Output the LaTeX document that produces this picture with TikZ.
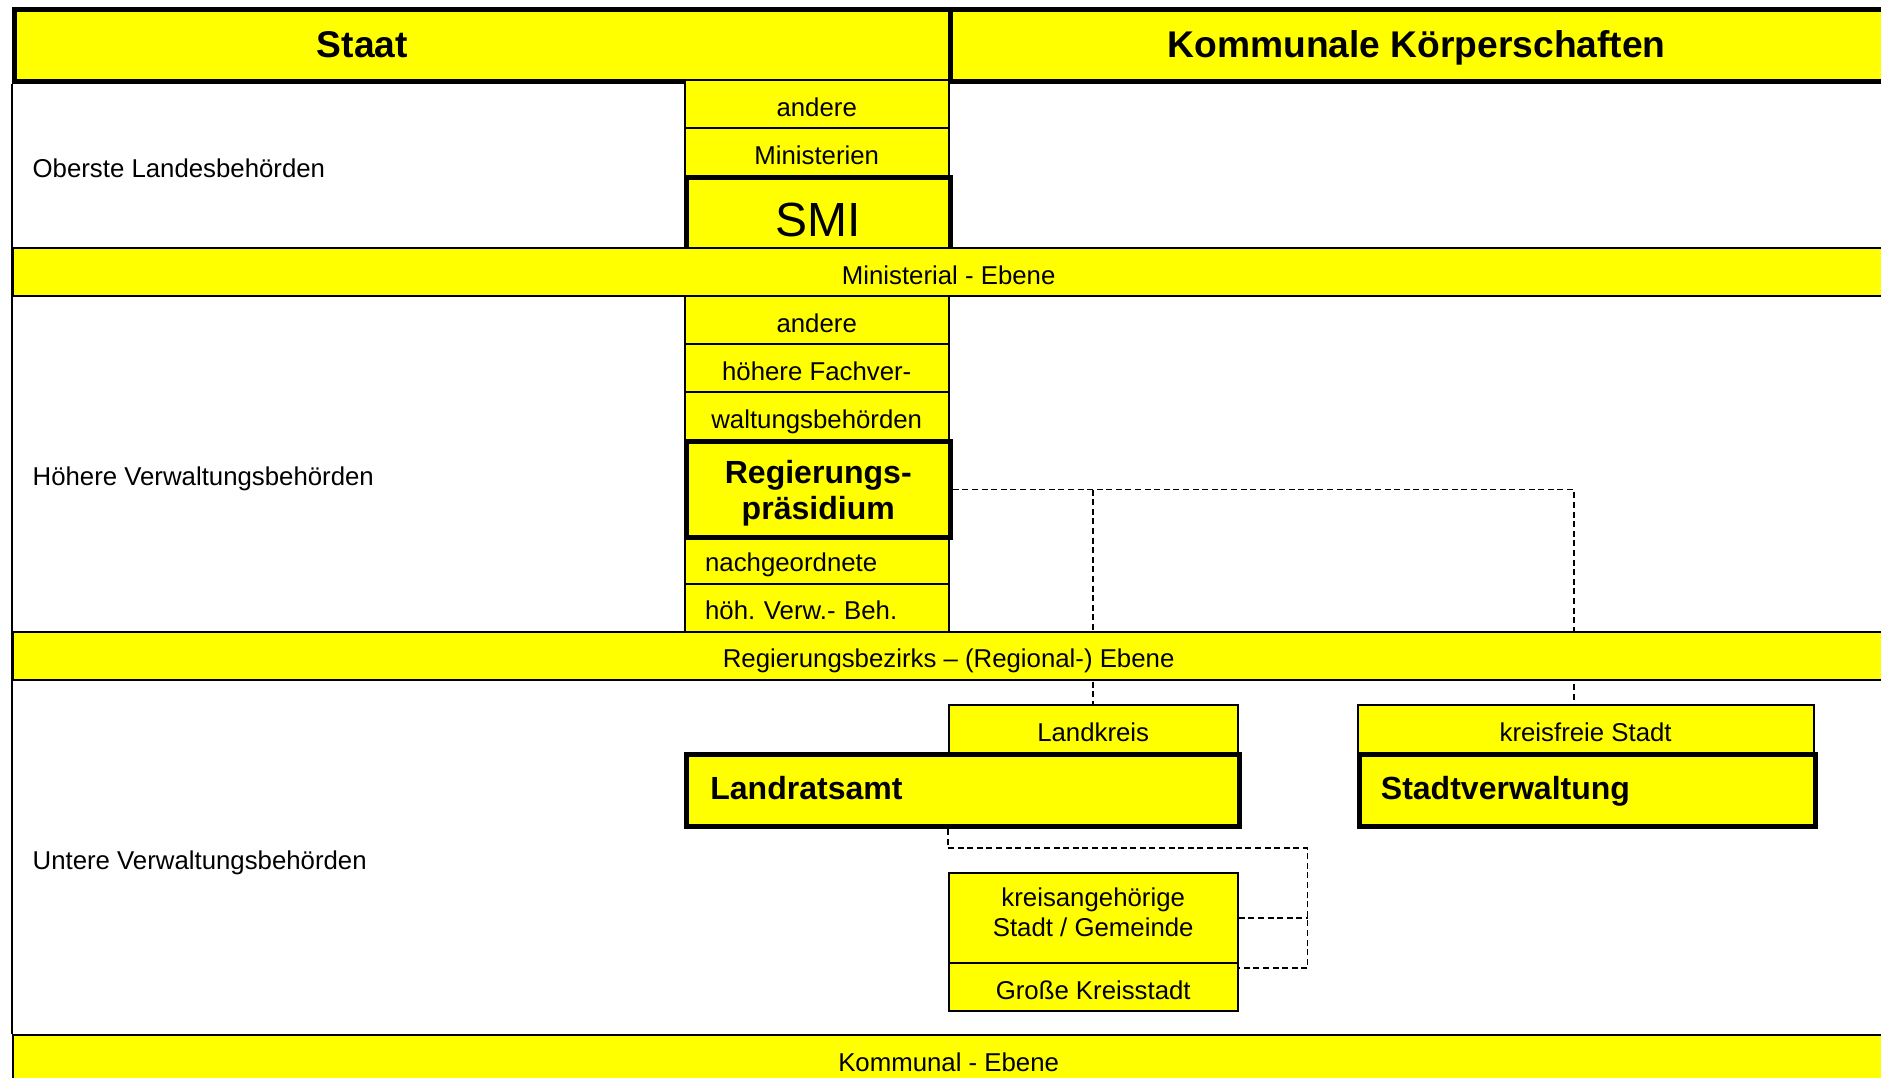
\documentclass[tikz,border=0pt]{standalone}
\usepackage{fontspec}
\setmainfont{Liberation Sans}
\definecolor{yel}{RGB}{255,255,0}
\begin{document}
\frenchspacing
\begin{tikzpicture}[x=1pt,y=-1pt,
  thinbox/.style={draw=black, fill=yel, line width=1.6pt, inner sep=0pt, anchor=north west},
  thickbox/.style={draw=black, fill=yel, line width=4.2pt, inner sep=0pt, anchor=north west},
  nf/.style={font=\fontsize{21.5}{25}\selectfont, text height=20pt, text depth=0pt},
  nf2/.style={font=\fontsize{21.5}{25}\selectfont},
  bf/.style={font=\fontsize{26.7}{30}\selectfont\bfseries, text height=15pt, text depth=0pt},
  bf2/.style={font=\fontsize{26.7}{30}\selectfont\bfseries},
  hf/.style={font=\fontsize{31}{35}\selectfont\bfseries, text height=22pt, text depth=0pt, inner sep=0pt},
  lab/.style={nf, anchor=west, inner sep=0pt},
  dline/.style={dash pattern=on 5pt off 3pt, line width=1.4pt},
  thinline/.style={line width=1.6pt}
]
\useasboundingbox (0,0) rectangle (1568,898);
\clip (0,0) rectangle (1568,898);
\fill[white] (0,0) rectangle (1568,898);

% header
\node[thickbox, minimum width=780pt, minimum height=60pt] (hs) at (10,6) {};
\node[thickbox, minimum width=782pt, minimum height=60pt] (hk) at (790,6) {};
\node[hf] (tstaat) at (302,37) {Staat};
\node[hf] (tkomm) at (1181,37) {Kommunale Körperschaften};

% row labels
\node[lab] (l1) at (27,138) {Oberste Landesbehörden};
\node[lab] (l2) at (27,395) {Höhere Verwaltungsbehörden};
\node[lab] (l3) at (27,715) {Untere Verwaltungsbehörden};

% column top level
\node[thinbox, nf, minimum width=220pt, minimum height=40pt] (a1) at (570,66) {andere};
\node[thinbox, nf, minimum width=220pt, minimum height=40pt] (a2) at (570,106) {Ministerien};
\node[thickbox, font=\fontsize{40}{44}\selectfont, text height=38.6pt, text depth=0pt, minimum width=220pt, minimum height=60pt] (smi) at (570,146) {SMI};

% column middle level
\node[thinbox, nf, minimum width=220pt, minimum height=40pt] (b1) at (570,246) {andere};
\node[thinbox, nf, minimum width=220pt, minimum height=40pt] (b2) at (570,286) {höhere Fachver-};
\node[thinbox, nf, minimum width=220pt, minimum height=40pt] (b3) at (570,326) {waltungsbehörden};
\node[thinbox, nf, minimum width=220pt, minimum height=40pt, text width=186pt, inner xsep=17pt, align=left] (b4) at (570,446) {nachgeordnete};
\node[thinbox, nf, minimum width=220pt, minimum height=40pt, text width=186pt, inner xsep=17pt, align=left] (b5) at (570,486) {höh. Verw.- Beh.};
\node[thickbox, minimum width=220pt, minimum height=80pt] (regp) at (570,366) {};
\node[bf2, align=center, yshift=-3pt] (tregp) at (regp.center) {Regierungs-\\präsidium};

% lower level
\node[thinbox, nf, minimum width=241pt, minimum height=40pt] (lk) at (790,587) {Landkreis};
\node[thinbox, nf, minimum width=380pt, minimum height=40pt] (kfs) at (1131,587) {kreisfreie Stadt};
\node[thickbox, bf, minimum width=461pt, minimum height=60pt, text width=421pt, inner xsep=20pt, align=left] (lra) at (570,627) {Landratsamt};
\node[thickbox, bf, minimum width=380pt, minimum height=60pt, text width=344pt, inner xsep=18pt, align=left] (sv) at (1131,627) {Stadtverwaltung};
\node[thinbox, minimum width=241pt, minimum height=75pt] (kag) at (790,727) {};
\node[nf2, align=center, yshift=4.5pt] (tkag) at (kag.center) {kreisangehörige\\Stadt / Gemeinde};
\node[thinbox, nf, minimum width=241pt, minimum height=40pt] (gks) at (790,802) {Große Kreisstadt};

% dashed connectors
\coordinate (rk) at ([xshift=-10pt]kfs.north);
\draw[dline] (regp.east) -- (rk |- regp.east) -- (rk);
\draw[dline] (lk.north |- regp.east) -- (lk.north);
\coordinate (c1) at (790,707);
\coordinate (c2) at (1090,707);
\coordinate (c3) at (1090,807);
\draw[dline] (lra.south -| lk.west) -- (c1) -- (c2) -- (c3) -- (c3 -| gks.east);
\draw[dline] (kag.east) -- (kag.east -| c2);

% bands
\node[thinbox, nf, minimum width=1560pt, minimum height=40pt] (band1) at (10,206) {Ministerial - Ebene};
\node[thinbox, nf, minimum width=1560pt, minimum height=40pt] (band2) at (10,526) {Regierungsbezirks – (Regional-) Ebene};
\node[thinbox, nf, minimum width=1560pt, minimum height=40pt] (band3) at (10,862) {Kommunal - Ebene};

% left border of body
\draw[thinline] (hs.south west) -- (band3.north west);
\end{tikzpicture}
\end{document}
